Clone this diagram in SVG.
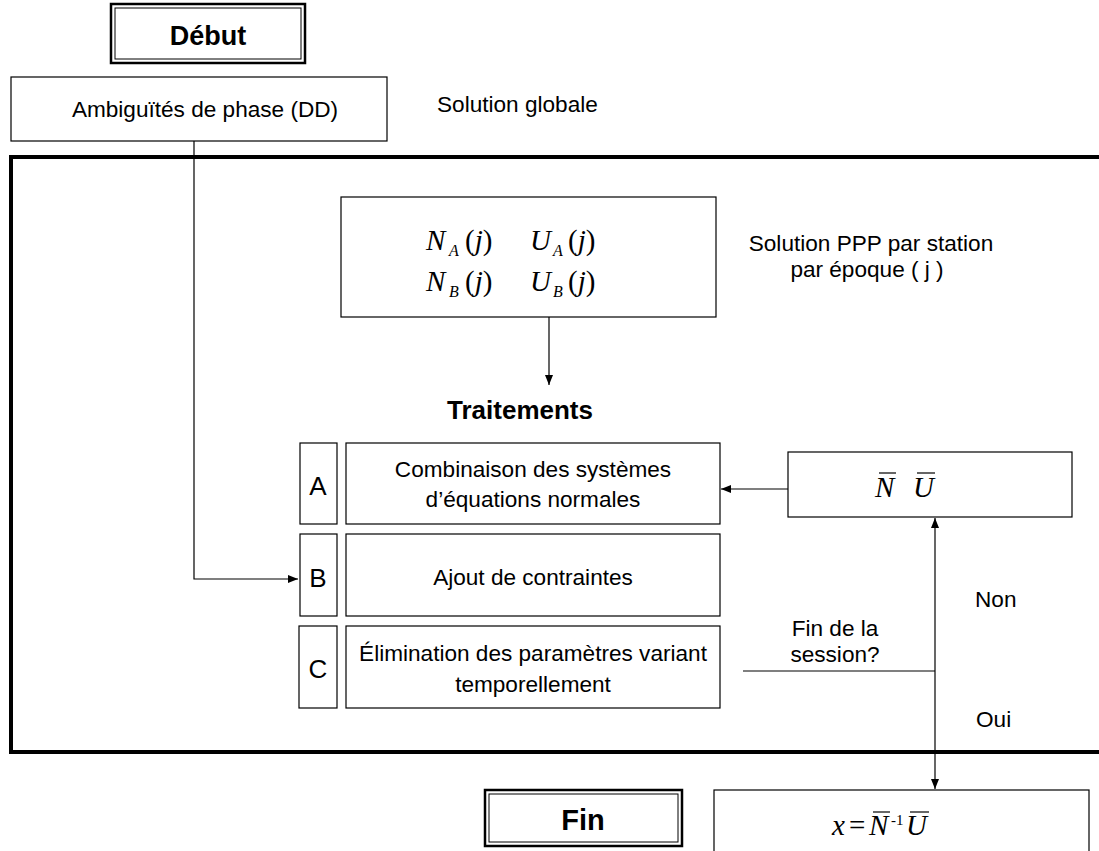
<svg xmlns="http://www.w3.org/2000/svg" width="1099" height="851" viewBox="0 0 1099 851">
<style>
.box{fill:#fff;stroke:#000;stroke-width:1.2}
.t{font-family:"Liberation Sans",Arial,sans-serif;font-size:22.6px;fill:#000}
.c{text-anchor:middle}
.b{font-weight:bold}
.m{font-family:"Liberation Serif","Times New Roman",serif;font-size:29px;fill:#000}
.i{font-style:italic}
.s{font-size:16px;font-style:italic}
.ln{fill:none;stroke:#000;stroke-width:1.2}
</style>
<defs>
<marker id="ah" viewBox="0 0 10 10" refX="10" refY="5" markerWidth="10" markerHeight="10" markerUnits="userSpaceOnUse" orient="auto">
<path d="M0,1 L10,5 L0,9 Z" fill="#000"/>
</marker>
</defs>
<rect width="1099" height="851" fill="#fff"/>

<g id="frame">
<rect x="11" y="157" width="1100" height="595" fill="none" stroke="#000" stroke-width="4"/>
</g>

<g id="debut">
<rect x="111" y="4" width="194" height="59" fill="#fff" stroke="#000" stroke-width="2.5"/>
<rect x="115" y="8" width="186" height="51" fill="none" stroke="#000" stroke-width="1"/>
<text class="t c b" x="208" y="45" style="font-size:27px">Début</text>
</g>

<g id="ambiguites">
<rect class="box" x="11" y="77" width="376" height="64"/>
<text class="t c" x="205" y="117">Ambiguïtés de phase (DD)</text>
</g>

<g id="solution-globale">
<text class="t" x="437" y="112">Solution globale</text>
</g>

<g id="ppp">
<rect class="box" x="341" y="197" width="375" height="120"/>
<text class="m" y="250"><tspan class="i" x="426">N</tspan><tspan class="s" x="449" dy="6">A</tspan><tspan x="465" dy="-6">(</tspan><tspan class="i">j</tspan><tspan>)</tspan></text>
<text class="m" y="250"><tspan class="i" x="530">U</tspan><tspan class="s" x="553" dy="6">A</tspan><tspan x="568" dy="-6">(</tspan><tspan class="i">j</tspan><tspan>)</tspan></text>
<text class="m" y="291"><tspan class="i" x="426">N</tspan><tspan class="s" x="449" dy="6">B</tspan><tspan x="465" dy="-6">(</tspan><tspan class="i">j</tspan><tspan>)</tspan></text>
<text class="m" y="291"><tspan class="i" x="530">U</tspan><tspan class="s" x="553" dy="6">B</tspan><tspan x="568" dy="-6">(</tspan><tspan class="i">j</tspan><tspan>)</tspan></text>
</g>

<g id="solution-ppp">
<text class="t c" x="871" y="251">Solution PPP par station</text>
<text class="t c" x="867" y="277">par époque ( j )</text>
</g>

<g id="traitements">
<text class="t c b" x="520" y="419" style="font-size:26px">Traitements</text>
</g>

<g id="row-a">
<rect class="box" x="300" y="443" width="37" height="81"/>
<text class="t c" x="318" y="495" style="font-size:26px">A</text>
<rect class="box" x="346" y="443" width="374" height="81"/>
<text class="t c" x="533" y="477">Combinaison des systèmes</text>
<text class="t c" x="533" y="507">d’équations normales</text>
</g>

<g id="row-b">
<rect class="box" x="300" y="534" width="37" height="82"/>
<text class="t c" x="318" y="587" style="font-size:26px">B</text>
<rect class="box" x="346" y="534" width="374" height="82"/>
<text class="t c" x="533" y="585">Ajout de contraintes</text>
</g>

<g id="row-c">
<rect class="box" x="299" y="626" width="38" height="82"/>
<text class="t c" x="318" y="678" style="font-size:26px">C</text>
<rect class="box" x="346" y="626" width="374" height="82"/>
<text class="t c" x="533" y="661">Élimination des paramètres variant</text>
<text class="t c" x="533" y="692">temporellement</text>
</g>

<g id="nu">
<rect class="box" x="788" y="452" width="284" height="65"/>
<text class="m i" x="875" y="497">N</text>
<line x1="879" y1="473" x2="896" y2="473" stroke="#000" stroke-width="1.2"/>
<text class="m i" x="913" y="497">U</text>
<line x1="917" y1="473" x2="935" y2="473" stroke="#000" stroke-width="1.2"/>
</g>

<g id="labels">
<text class="t c" x="835" y="636">Fin de la</text>
<text class="t c" x="835" y="662">session?</text>
<text class="t" x="975" y="607">Non</text>
<text class="t" x="976" y="727">Oui</text>
</g>

<g id="fin">
<rect x="485" y="790" width="197" height="56" fill="#fff" stroke="#000" stroke-width="2.5"/>
<rect x="489" y="794" width="189" height="48" fill="none" stroke="#000" stroke-width="1"/>
<text class="t c b" x="583" y="830" style="font-size:29px">Fin</text>
</g>

<g id="result">
<rect class="box" x="714" y="790" width="375" height="80"/>
<text class="m" y="835"><tspan class="i" x="832">x</tspan><tspan x="849">=</tspan><tspan class="i" x="869">N</tspan><tspan style="font-size:15px" x="891" dy="-10">-1</tspan><tspan class="i" x="906" dy="10">U</tspan></text>
<line x1="873" y1="812" x2="890" y2="812" stroke="#000" stroke-width="1.2"/>
<line x1="910" y1="812" x2="929" y2="812" stroke="#000" stroke-width="1.2"/>
</g>

<g id="connectors">
<polyline class="ln" points="194,141 194,579 298,579" marker-end="url(#ah)"/>
<line class="ln" x1="549" y1="317" x2="549" y2="385" marker-end="url(#ah)"/>
<line class="ln" x1="788" y1="489" x2="721" y2="489" marker-end="url(#ah)"/>
<line class="ln" x1="935" y1="671" x2="935" y2="518" marker-end="url(#ah)"/>
<line class="ln" x1="743" y1="671" x2="935" y2="671"/>
<line class="ln" x1="935" y1="671" x2="935" y2="789" marker-end="url(#ah)"/>
</g>
</svg>
